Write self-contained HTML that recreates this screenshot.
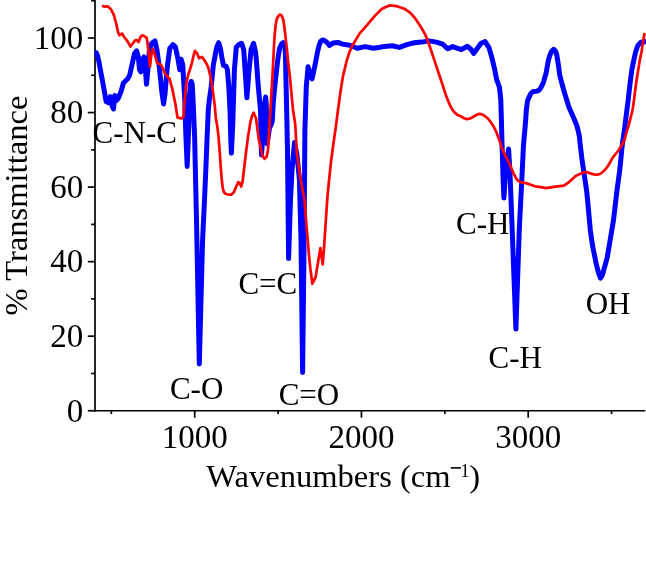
<!DOCTYPE html>
<html><head><meta charset="utf-8"><style>
html,body{margin:0;padding:0;background:#fff;width:646px;height:566px;overflow:hidden}
svg{display:block}
text{font-family:"Liberation Serif",serif;fill:#000}
.gt{will-change:transform}
</style></head><body>
<svg width="646" height="566" viewBox="0 0 646 566">
<rect width="646" height="566" fill="#fff"/>
<g stroke="#000" stroke-width="1.7" fill="none">
<line x1="95" y1="0" x2="95" y2="411.6"/>
<line x1="94.2" y1="410.75" x2="645.3" y2="410.75"/>
<line x1="87.8" y1="410.75" x2="95" y2="410.75"/><line x1="91.2" y1="373.48" x2="95" y2="373.48"/><line x1="87.8" y1="336.20" x2="95" y2="336.20"/><line x1="91.2" y1="298.93" x2="95" y2="298.93"/><line x1="87.8" y1="261.66" x2="95" y2="261.66"/><line x1="91.2" y1="224.38" x2="95" y2="224.38"/><line x1="87.8" y1="187.11" x2="95" y2="187.11"/><line x1="91.2" y1="149.84" x2="95" y2="149.84"/><line x1="87.8" y1="112.57" x2="95" y2="112.57"/><line x1="91.2" y1="75.29" x2="95" y2="75.29"/><line x1="87.8" y1="38.02" x2="95" y2="38.02"/><line x1="91.2" y1="0.75" x2="95" y2="0.75"/><line x1="111.33" y1="410.5" x2="111.33" y2="414"/><line x1="194.70" y1="410.5" x2="194.70" y2="417.7"/><line x1="278.08" y1="410.5" x2="278.08" y2="414"/><line x1="361.45" y1="410.5" x2="361.45" y2="417.7"/><line x1="444.83" y1="410.5" x2="444.83" y2="414"/><line x1="528.20" y1="410.5" x2="528.20" y2="417.7"/><line x1="611.58" y1="410.5" x2="611.58" y2="414"/>
</g>
<defs><clipPath id="pc"><rect x="94.6" y="0" width="552" height="410.3"/></clipPath></defs>
<g clip-path="url(#pc)">
<path d="M94.0,52.5 L96.3,52.8 L97.6,56.0 L99.0,62.0 L100.8,72.1 L102.7,82.0 L104.5,92.0 L106.1,101.5 L108.6,102.8 L110.3,96.6 L112.3,106.5 L113.5,109.0 L114.8,95.4 L116.7,100.3 L118.5,97.8 L121.0,91.6 L123.4,83.0 L127.2,79.3 L129.6,75.5 L132.1,64.4 L134.6,53.3 L136.6,50.8 L138.3,57.0 L139.5,69.3 L140.8,71.8 L142.5,59.4 L144.0,57.0 L145.0,64.4 L146.5,84.2 L147.7,71.8 L149.4,49.5 L151.9,43.3 L154.9,40.9 L156.9,49.5 L159.3,66.9 L161.8,91.6 L163.6,104.0 L165.0,94.0 L167.3,66.9 L169.8,48.3 L173.0,44.6 L175.4,47.0 L178.0,59.0 L179.8,69.8 L181.1,59.2 L182.7,64.5 L184.6,96.3 L185.9,136.0 L187.2,166.5 L188.6,130.7 L189.6,95.0 L190.3,84.5 L191.2,81.5 L192.2,84.0 L193.0,98.9 L194.6,136.0 L196.5,220.0 L199.3,364.0 L202.6,240.0 L204.5,200.0 L205.8,170.0 L207.0,140.0 L208.3,110.0 L209.3,100.0 L211.2,86.6 L213.3,65.4 L215.4,54.0 L216.8,47.0 L218.7,42.7 L220.4,48.4 L221.8,56.9 L223.5,65.4 L226.0,66.1 L227.4,69.6 L228.8,86.6 L230.0,110.0 L230.8,140.0 L231.4,153.2 L232.8,122.8 L234.4,69.8 L236.3,47.2 L238.9,44.6 L241.6,43.3 L243.7,49.5 L245.4,74.3 L246.9,97.8 L248.7,74.3 L251.1,49.5 L253.6,43.3 L255.5,52.0 L256.2,58.3 L258.3,86.6 L260.5,110.0 L261.0,135.0 L261.5,155.0 L263.3,130.0 L264.5,105.0 L265.6,97.0 L266.3,105.0 L266.8,130.0 L267.2,144.0 L268.0,138.0 L269.5,128.0 L271.0,125.0 L272.3,121.0 L273.1,105.0 L273.5,100.0 L274.4,90.0 L275.5,80.0 L276.6,70.0 L277.5,62.0 L278.6,54.0 L279.8,47.5 L281.5,44.0 L283.2,42.7 L284.6,44.8 L285.3,52.0 L285.5,60.0 L286.1,85.0 L286.6,107.6 L287.5,150.0 L288.6,258.6 L290.5,200.0 L292.0,170.0 L294.5,142.4 L297.0,154.8 L299.4,179.5 L301.0,240.0 L302.6,372.5 L304.0,250.0 L304.9,130.0 L306.3,86.6 L308.1,66.8 L310.5,76.0 L312.1,78.8 L314.0,70.0 L315.8,60.9 L317.5,52.0 L318.9,46.1 L320.5,41.5 L322.6,39.9 L325.0,40.8 L326.9,42.4 L329.4,45.5 L331.0,44.3 L333.1,43.0 L338.0,42.4 L342.4,44.1 L349.8,45.3 L357.2,48.3 L365.3,46.6 L373.3,48.2 L380.0,47.3 L384.5,46.4 L391.9,45.8 L399.4,47.4 L406.8,44.6 L414.2,42.8 L421.6,42.1 L429.1,40.9 L436.5,42.1 L442.7,44.1 L447.6,48.8 L452.6,46.6 L457.6,48.3 L461.3,49.5 L467.5,46.3 L471.2,49.5 L473.7,53.3 L477.4,48.3 L481.1,43.3 L485.1,41.6 L489.0,47.6 L491.6,56.6 L494.1,66.8 L496.7,79.7 L499.5,87.4 L500.8,100.0 L501.4,120.0 L501.9,140.0 L503.2,181.9 L503.9,198.0 L505.6,169.5 L508.6,149.0 L509.8,169.5 L511.8,219.0 L515.9,329.1 L519.3,229.0 L521.7,181.9 L523.5,144.8 L525.3,125.0 L526.4,109.5 L527.5,101.0 L529.2,96.8 L530.8,93.5 L532.7,91.8 L537.0,91.1 L539.0,90.2 L540.5,88.3 L543.3,82.6 L546.2,72.7 L548.4,60.0 L550.0,55.0 L551.5,51.5 L553.7,49.3 L555.7,51.5 L556.8,55.0 L557.6,60.0 L558.7,67.0 L559.7,75.0 L562.4,85.5 L565.3,95.4 L568.8,106.7 L573.7,118.0 L576.6,125.0 L578.0,130.0 L579.4,136.4 L579.9,141.8 L581.8,158.0 L583.4,169.0 L586.8,192.0 L588.5,210.0 L590.3,230.0 L592.4,244.8 L596.1,263.3 L598.6,273.2 L600.5,278.2 L602.2,275.5 L603.5,271.0 L605.3,264.5 L607.3,257.1 L610.4,238.6 L613.5,220.0 L617.1,189.5 L619.5,172.0 L620.8,160.0 L621.7,150.0 L622.9,140.0 L624.3,131.2 L625.6,120.6 L626.9,110.0 L628.2,100.0 L629.3,90.0 L630.5,80.0 L631.8,70.0 L633.0,64.0 L634.5,57.0 L635.7,51.8 L637.8,45.5 L641.0,42.3 L647.0,41.5" fill="none" stroke="#0000ff" stroke-width="5" stroke-linejoin="round" stroke-linecap="round"/>
<path d="M103.0,6.2 L104.5,6.7 L106.0,6.3 L108.0,6.6 L110.0,8.3 L111.5,10.3 L113.3,13.8 L114.3,16.5 L115.2,20.0 L116.2,23.5 L117.0,27.3 L118.1,32.3 L119.4,35.3 L120.6,34.1 L122.2,33.7 L123.7,36.5 L126.2,39.6 L128.7,43.3 L130.5,46.5 L132.4,44.0 L134.9,40.6 L136.7,39.9 L138.6,42.1 L140.4,37.2 L142.3,35.3 L144.8,36.5 L146.6,37.8 L147.4,42.0 L148.6,52.0 L150.0,66.8 L151.2,55.7 L152.8,48.9 L154.7,54.5 L157.1,63.1 L159.6,63.8 L161.8,66.1 L164.7,73.1 L167.5,76.7 L169.6,78.8 L172.4,89.4 L175.3,103.5 L176.5,111.0 L177.5,117.6 L181.6,118.4 L183.5,117.0 L184.1,106.0 L185.2,94.5 L186.4,83.0 L188.1,75.0 L190.4,68.0 L192.1,62.3 L193.2,57.0 L194.9,50.9 L197.0,53.3 L199.1,58.3 L202.0,56.9 L204.1,59.7 L206.2,63.2 L208.3,67.5 L210.5,76.7 L212.6,89.4 L214.7,105.0 L215.8,117.7 L217.2,126.0 L218.4,135.3 L219.8,153.0 L221.0,170.7 L221.8,180.0 L222.8,188.3 L224.0,192.3 L225.5,193.8 L227.0,194.3 L231.2,194.7 L234.0,192.1 L236.2,186.5 L238.3,182.2 L239.7,183.0 L241.1,186.5 L242.5,182.2 L244.0,169.5 L246.0,152.5 L248.2,135.6 L250.3,122.8 L252.0,116.0 L253.6,112.6 L256.1,118.8 L258.6,138.6 L260.2,145.5 L262.3,155.4 L264.5,158.9 L266.6,156.8 L268.0,150.0 L269.2,130.0 L270.8,103.6 L272.7,71.8 L274.3,40.0 L275.3,28.0 L276.3,21.0 L277.2,18.0 L278.4,16.0 L280.0,14.6 L281.6,15.5 L283.3,19.8 L284.5,28.0 L287.1,51.2 L287.9,60.0 L289.9,76.7 L291.6,95.0 L293.0,110.0 L295.2,123.8 L297.0,154.8 L300.6,179.5 L304.4,199.3 L306.8,229.0 L309.3,258.7 L310.5,270.0 L312.4,283.7 L315.6,277.1 L320.4,248.0 L322.7,264.3 L323.5,255.0 L324.3,243.6 L325.9,219.7 L327.5,195.9 L329.1,180.0 L331.1,160.7 L333.5,143.0 L335.8,127.1 L338.0,110.0 L340.2,93.6 L343.0,76.0 L346.9,60.0 L349.5,52.0 L352.3,45.8 L359.7,33.4 L367.2,24.8 L374.6,16.1 L382.0,8.7 L389.4,5.4 L396.9,6.2 L404.3,8.7 L410.0,12.7 L414.5,17.5 L418.5,23.3 L421.8,28.5 L424.8,33.9 L427.0,38.8 L429.1,44.5 L431.2,50.8 L433.3,57.2 L435.5,63.6 L437.6,70.0 L439.7,76.3 L441.8,82.7 L443.9,89.0 L446.0,95.4 L448.2,101.0 L450.3,106.0 L452.4,109.6 L454.5,112.4 L457.5,114.9 L460.3,115.9 L463.5,118.0 L466.7,119.1 L470.0,118.5 L473.0,117.0 L476.2,115.0 L479.4,113.8 L482.0,114.3 L484.7,115.9 L487.5,118.2 L490.0,121.2 L492.2,124.2 L494.2,127.6 L495.9,131.0 L497.4,135.0 L500.6,143.5 L501.5,147.5 L503.8,152.4 L506.5,157.8 L509.1,163.0 L511.4,168.3 L513.6,173.6 L515.5,177.2 L517.1,179.8 L519.2,181.5 L521.5,182.4 L526.8,183.3 L530.0,184.5 L535.0,186.3 L539.1,186.9 L546.5,188.1 L553.9,186.9 L563.8,185.6 L568.0,182.9 L575.9,175.7 L583.9,172.3 L587.0,172.0 L590.0,173.4 L594.0,174.4 L597.3,174.7 L600.0,174.0 L602.3,172.2 L604.8,170.0 L608.0,166.0 L612.7,157.7 L616.0,153.5 L618.7,150.0 L621.8,145.0 L624.5,140.0 L626.1,133.8 L628.5,125.9 L630.6,117.9 L632.5,110.0 L634.0,100.0 L635.2,90.0 L636.6,80.0 L638.2,70.0 L639.8,60.0 L641.5,52.0 L643.0,42.0 L644.4,34.0" fill="none" stroke="#ff0000" stroke-width="2.7" stroke-linejoin="round" stroke-linecap="round"/>
</g>

<g class="gt">
<g font-size="33"><text x="83.3" y="421.55" text-anchor="end">0</text><text x="83.3" y="347.00" text-anchor="end">20</text><text x="83.3" y="272.46" text-anchor="end">40</text><text x="83.3" y="197.91" text-anchor="end">60</text><text x="83.3" y="123.37" text-anchor="end">80</text><text x="83.3" y="48.82" text-anchor="end">100</text><text x="194.70" y="448" text-anchor="middle">1000</text><text x="361.45" y="448" text-anchor="middle">2000</text><text x="528.20" y="448" text-anchor="middle">3000</text></g>
<g font-size="31">
<text x="92.6" y="142.5">C-N-C</text>
<text x="169.9" y="398.8">C-O</text>
<text x="238.4" y="294.4">C=C</text>
<text x="278.7" y="405">C=O</text>
<text x="456" y="233.9">C-H</text>
<text x="488.6" y="367.5">C-H</text>
<text x="585.7" y="313.9">OH</text>
</g>
<text font-size="32.6" transform="translate(27.1,315.5) rotate(-90)">% Transmittance</text>
<text font-size="32.6" x="206.3" y="486.6">Wavenumbers (cm</text><rect x="450.8" y="467.1" width="10.1" height="1.6" fill="#000"/><text font-size="18" x="460.5" y="476.5">1</text><text font-size="32.6" x="469.2" y="486.6">)</text>
</g>
</svg>
</body></html>
